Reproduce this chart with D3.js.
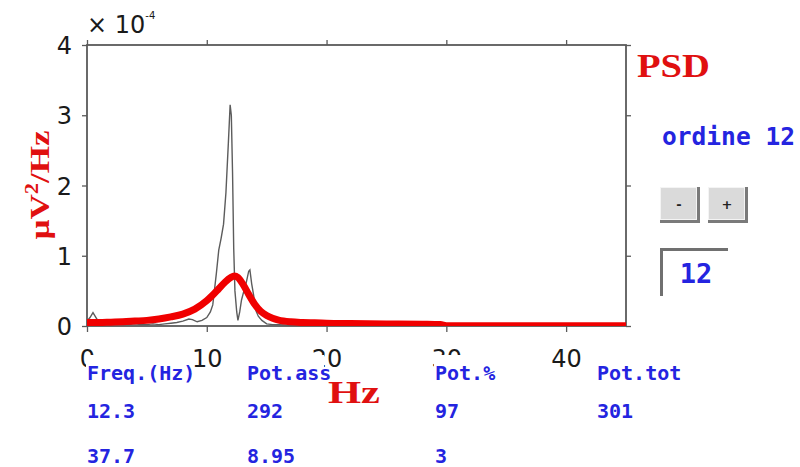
<!DOCTYPE html>
<html>
<head>
<meta charset="utf-8">
<script src="https://cdn.jsdelivr.net/npm/d3@7"></script>
<style>
  html, body { margin: 0; padding: 0; background: #fff; }
  svg { display: block; }
</style>
</head>
<body>
<svg id="chart" width="800" height="467"></svg>
<script>
// Raw periodogram (grey) — frequency in Hz, power in units of 1e-4 µV²/Hz
const rawFreq = [0, 0.25, 0.5, 0.75, 1, 1.5, 2, 2.5, 3, 3.5, 4, 4.5, 5, 5.5, 6, 6.5, 7, 7.5, 8, 8.5, 8.8, 9.2, 9.6, 10, 10.3, 10.5, 10.8, 11, 11.2, 11.4, 11.6, 11.8, 11.95, 12.05, 12.15, 12.25, 12.35, 12.5, 12.6, 12.75, 12.9, 13.1, 13.3, 13.5, 13.6, 13.75, 13.9, 14.1, 14.3, 14.6, 15, 15.5, 16, 17, 18, 19, 20, 21, 22, 23, 24, 25, 26, 27, 28, 29, 30, 31, 32, 33, 34, 35, 36, 37, 38, 39, 40, 41, 42, 43, 44, 45];
const rawPsd  = [0.07, 0.12, 0.19, 0.12, 0.05, 0.03, 0.02, 0.03, 0.02, 0.02, 0.03, 0.02, 0.02, 0.03, 0.02, 0.03, 0.04, 0.05, 0.07, 0.1, 0.09, 0.06, 0.08, 0.12, 0.2, 0.3, 0.75, 1.08, 1.25, 1.45, 1.9, 2.6, 3.15, 3.0, 2.2, 1.1, 0.5, 0.2, 0.08, 0.2, 0.37, 0.5, 0.62, 0.78, 0.8, 0.6, 0.45, 0.22, 0.14, 0.08, 0.03, 0.02, 0.02, 0.01, 0.02, 0.01, 0.01, 0.02, 0.01, 0.01, 0.02, 0.01, 0.01, 0.01, 0.02, 0.01, 0.01, 0.01, 0.01, 0.01, 0.01, 0.01, 0.01, 0.01, 0.01, 0.01, 0.01, 0.01, 0.01, 0.01, 0.01, 0.01];

// AR model spectrum, order 12 (red)
const arFreq = [0, 1, 2, 3, 4, 5, 6, 7, 8, 9, 10, 10.5, 11, 11.5, 12, 12.3, 12.6, 13, 13.5, 14, 14.5, 15, 15.5, 16, 17, 18, 19, 20, 22, 25, 28, 29.5, 30, 32, 35, 40, 45];
const arPsd  = [0.05, 0.05, 0.055, 0.06, 0.07, 0.08, 0.1, 0.13, 0.17, 0.24, 0.36, 0.44, 0.53, 0.62, 0.69, 0.71, 0.69, 0.6, 0.45, 0.31, 0.21, 0.15, 0.11, 0.085, 0.06, 0.05, 0.045, 0.04, 0.035, 0.03, 0.025, 0.02, 0.005, 0.003, 0.002, 0.002, 0.002];

// Axis ticks
const xTicks = [0, 10, 20, 30, 40];
const yTicks = [0, 1, 2, 3, 4];

// Summary table of the spectral peaks
const tableHeaders = ["Freq.(Hz)", "Pot.ass", "Pot.%", "Pot.tot"];
const tableRow1 = ["12.3", "292", "97", "301"];
const tableRow2 = ["37.7", "8.95", "3", ""];
const arOrder = 12;

const svg = d3.select("#chart");
const L = 87, R = 626, T = 45, B = 326;

const x = d3.scaleLinear().domain([0, 45]).range([L, R]);
const y = d3.scaleLinear().domain([0, 4]).range([B, T]);

svg.append("defs").append("clipPath").attr("id", "plotClip")
  .append("rect").attr("x", L).attr("y", T).attr("width", R - L).attr("height", B - T);

const axisColor = "#5a5a5a";
const tickFont = "'DejaVu Sans', sans-serif";

function styleAxis(g) {
  g.select(".domain").remove();
  g.selectAll(".tick line").attr("stroke", axisColor).attr("stroke-width", 1.3);
  g.selectAll(".tick text").attr("fill", "#1a1a1a")
    .style("font-family", tickFont).style("font-size", "24px");
}

// bottom / left axes with labels
svg.append("g").attr("transform", `translate(0,${B})`)
  .call(d3.axisBottom(x).tickValues(xTicks).tickSize(6).tickPadding(18).tickFormat(d3.format("d")))
  .call(styleAxis);
svg.append("g").attr("transform", `translate(${L},0)`)
  .call(d3.axisLeft(y).tickValues(yTicks).tickSize(5).tickPadding(10).tickFormat(d3.format("d")))
  .call(g => { styleAxis(g); g.selectAll(".tick text").attr("dy", "0.36em"); });
// top / right axes, ticks only
svg.append("g").attr("transform", `translate(0,${T})`)
  .call(d3.axisTop(x).tickValues(xTicks).tickSize(5).tickFormat(""))
  .call(styleAxis);
svg.append("g").attr("transform", `translate(${R},0)`)
  .call(d3.axisRight(y).tickValues(yTicks).tickSize(5).tickFormat(""))
  .call(styleAxis);

// plot box
svg.append("rect").attr("x", L).attr("y", T).attr("width", R - L).attr("height", B - T)
  .attr("fill", "none").attr("stroke", axisColor).attr("stroke-width", 1.8);

// exponent label
svg.append("text").attr("x", 87).attr("y", 33)
  .style("font-family", tickFont).style("font-size", "24px").attr("fill", "#1a1a1a")
  .text("× 10")
  .append("tspan").attr("dy", -14).style("font-size", "10px").text("-4");

const plot = svg.append("g").attr("clip-path", "url(#plotClip)");

plot.append("path")
  .datum(rawFreq.map((f, i) => [f, rawPsd[i]]))
  .attr("d", d3.line().x(d => x(d[0])).y(d => y(d[1])))
  .attr("fill", "none").attr("stroke", "#5c5c5c").attr("stroke-width", 1.4);

plot.append("path")
  .datum(arFreq.map((f, i) => [f, arPsd[i]]))
  .attr("d", d3.line().x(d => x(d[0])).y(d => y(d[1])).curve(d3.curveMonotoneX))
  .attr("fill", "none").attr("stroke", "#f00000").attr("stroke-width", 7)
  .attr("stroke-linejoin", "round");

// red titles
const serif = "'Liberation Serif', 'Times New Roman', serif";
svg.append("text").attr("x", 637).attr("y", 77)
  .attr("textLength", 73).attr("lengthAdjust", "spacingAndGlyphs")
  .style("font-family", serif).style("font-weight", "bold").style("font-size", "33px")
  .attr("fill", "#e01010").text("PSD");

svg.append("text").attr("x", 328).attr("y", 403)
  .attr("textLength", 52).attr("lengthAdjust", "spacingAndGlyphs")
  .style("font-family", serif).style("font-weight", "bold").style("font-size", "32px")
  .attr("fill", "#e01010").text("Hz");

const yl = svg.append("text")
  .attr("transform", "translate(49,185) rotate(-90) scale(1.25,1)")
  .attr("text-anchor", "middle")
  .style("font-family", serif).style("font-weight", "bold").style("font-size", "28px")
  .attr("fill", "#e01010");
yl.append("tspan").text("µV");
yl.append("tspan").attr("dy", -11).style("font-size", "18px").text("2");
yl.append("tspan").attr("dy", 11).text("/Hz");

// order controls
const blue = "#2424e0";
const mono = "'DejaVu Sans Mono', monospace";
svg.append("text").attr("x", 662).attr("y", 145)
  .attr("textLength", 133).attr("lengthAdjust", "spacingAndGlyphs")
  .style("font-family", mono).style("font-weight", "bold").style("font-size", "24px")
  .attr("fill", blue).text("ordine " + arOrder);

const buttons = [{ x: 660, label: "-" }, { x: 708, label: "+" }];
buttons.forEach(b => {
  const g = svg.append("g");
  g.append("rect").attr("x", b.x).attr("y", 187).attr("width", 40).attr("height", 36).attr("fill", "#7a7a7a");
  g.append("rect").attr("x", b.x).attr("y", 187).attr("width", 37).attr("height", 33).attr("fill", "#f4f4f4");
  g.append("rect").attr("x", b.x + 1).attr("y", 188).attr("width", 35).attr("height", 31).attr("fill", "#dadada");
  g.append("text").attr("x", b.x + 19).attr("y", 209).attr("text-anchor", "middle")
    .style("font-family", tickFont).style("font-weight", "bold").style("font-size", "13px")
    .attr("fill", "#222").text(b.label);
});

// edit box
svg.append("rect").attr("x", 660).attr("y", 248).attr("width", 68).attr("height", 48).attr("fill", "#fff");
svg.append("path").attr("d", "M661.5,296 V249.5 H728").attr("fill", "none")
  .attr("stroke", "#707070").attr("stroke-width", 3);
svg.append("text").attr("x", 696).attr("y", 283).attr("text-anchor", "middle")
  .style("font-family", mono).style("font-weight", "bold").style("font-size", "27px")
  .attr("fill", blue).text(String(arOrder));

// table
const colX = [87, 247, 435, 597];
const rowY = [380, 418, 463];
const tbl = svg.append("g").style("font-family", mono).style("font-weight", "bold")
  .style("font-size", "20px").attr("fill", blue);
tableHeaders.forEach((h, i) => {
  tbl.append("rect").attr("x", colX[i] - 1).attr("y", 355)
    .attr("width", h.length * 12 - 6).attr("height", 30).attr("fill", "#fff");
  tbl.append("text").attr("x", colX[i]).attr("y", rowY[0]).text(h);
});
[tableRow1, tableRow2].forEach((row, r) => {
  row.forEach((v, i) => {
    if (v) tbl.append("text").attr("x", colX[i]).attr("y", rowY[r + 1]).text(v);
  });
});
</script>
</body>
</html>
